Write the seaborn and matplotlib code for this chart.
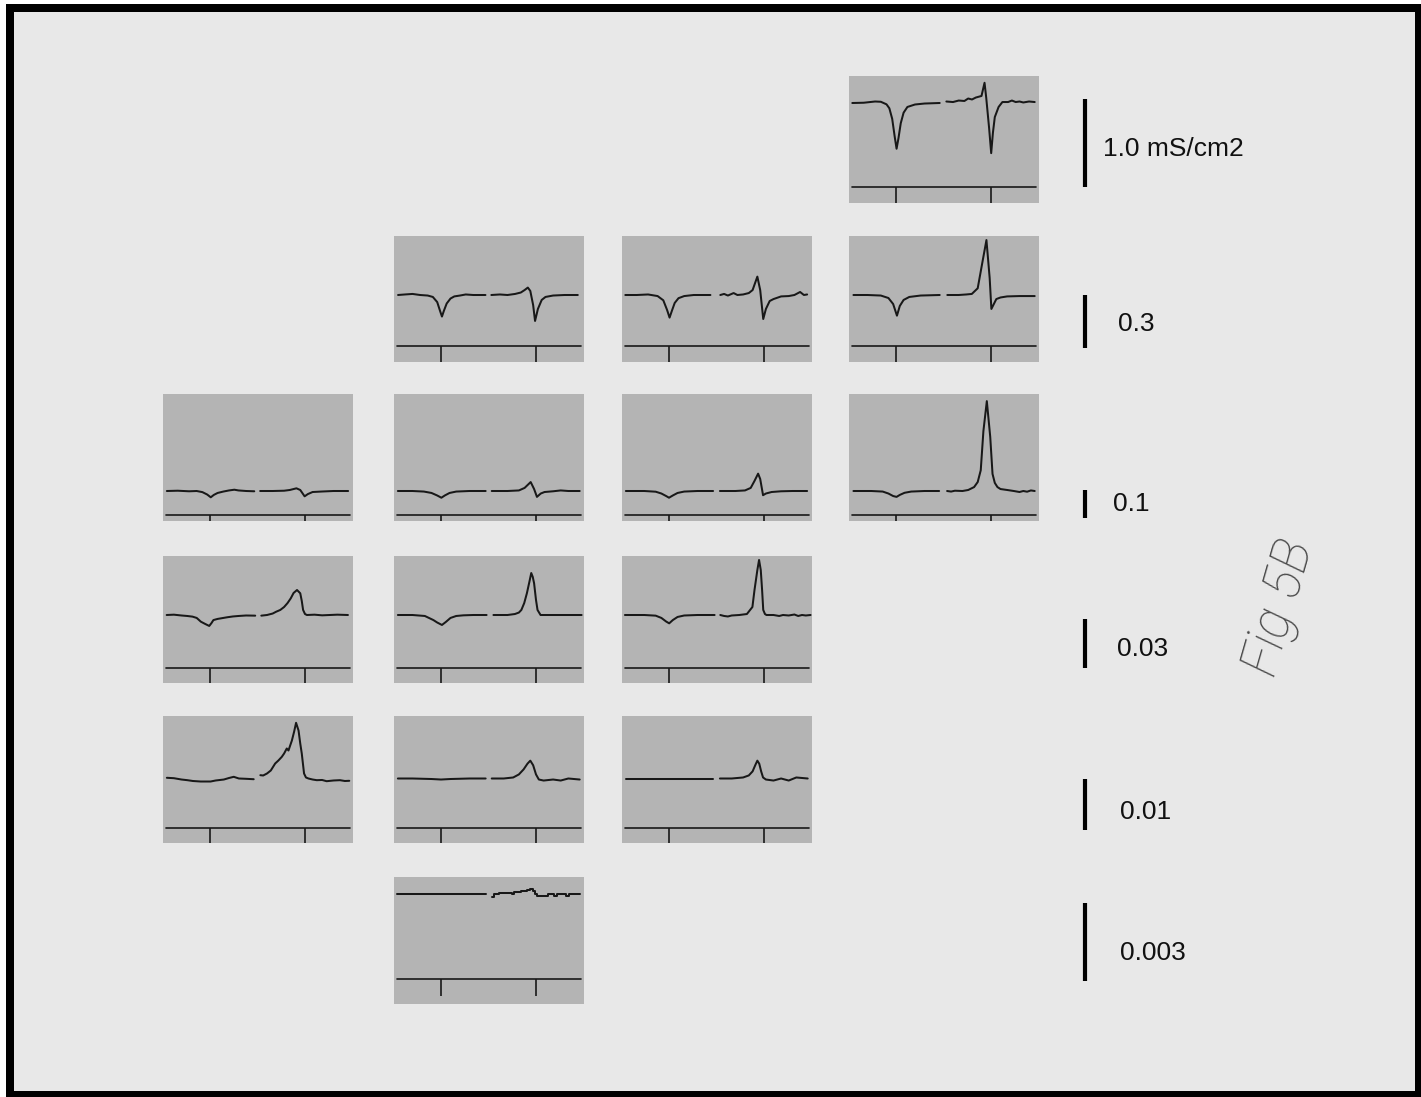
import matplotlib
matplotlib.use("Agg")
import matplotlib.pyplot as plt
import matplotlib.transforms as mtransforms
from matplotlib.patches import Rectangle
import pandas as pd
import seaborn as sns

# ---------------------------------------------------------------------------
# Conductance traces (µS/cm²) against time (% of sweep). Each panel holds two
# sweeps: the left one and the right one, each centred on a stimulus marker.
# ---------------------------------------------------------------------------
stim_times = [25, 75]

# row 0  (scale 1.0 mS/cm2)
r0c3_left = ([2, 8, 14, 17, 20, 21.5, 23, 24.3, 25.3, 26.3, 27.5, 29, 31, 35, 40, 48],
             [0, 3, 17, 14, -15, -60, -180, -380, -520, -400, -230, -110, -45, -17, -6, 0])
r0c3_right = ([51.5, 55, 58, 61, 63, 65, 67, 69, 70, 71.6, 72.5, 74, 75.1, 76, 77, 79, 81, 84, 86, 88, 90, 92, 95, 98],
              [17, 11, 28, 23, 51, 40, 62, 74, 80, 230, 57, -284, -570, -340, -160, -45, 11, 11, 28, 11, 17, 6, 17, 11])

# row 1  (scale 0.3)
r1c1_left = ([2.4, 6, 10, 14, 18, 20.7, 23, 24.5, 25.5, 26.5, 28, 30, 32, 35, 38, 42, 48.4],
             [0, 3, 6, 0, -3, -11, -40, -90, -122, -90, -48, -20, -8, -3, 3, 0, 0])
r1c1_right = ([51.5, 56, 60, 64, 67, 69, 70.7, 72, 73.5, 74.5, 76, 78, 80, 84, 90, 97],
              [0, 3, 0, 6, 14, 28, 42, 23, -57, -147, -79, -28, -11, -3, 0, 0])
r1c2_left = ([2, 8, 14, 19, 22, 24, 25.3, 26.5, 28, 30, 33, 38, 46.8],
             [0, 0, 3, -6, -30, -85, -128, -90, -45, -18, -6, 0, 0])
r1c2_right = ([52, 54, 56, 59, 61, 64, 67, 69, 71.5, 73, 74.6, 76, 78, 80, 84, 88, 91, 94, 96, 97.7],
              [0, 6, -3, 11, 0, 3, 11, 28, 104, 28, -136, -79, -34, -23, -8, -6, 0, 17, 0, 3])
r1c3_left = ([2.6, 10, 17, 21, 23.5, 25.5, 27, 29, 32, 38, 48],
             [0, 0, -3, -17, -51, -117, -62, -28, -11, -3, 0])
r1c3_right = ([52, 58, 62, 64.9, 68, 70.5, 72.6, 74.3, 75.2, 77.8, 80, 83.5, 90, 98],
              [0, 0, 3, 6, 38, 187, 311, 96, -79, -23, -14, -8, -6, -6])

# row 2  (scale 0.1)
r2c0_left = ([2.3, 8, 14, 18, 21, 23.5, 25.4, 27, 29, 32, 35, 37.8, 40, 44, 48.3],
             [0, 1, -1, 0, -4, -12.5, -22.5, -14, -7, -2, 2, 4.6, 2, 0, -1])
r2c0_right = ([51.4, 58, 64, 67, 70.5, 72.5, 74.8, 76.5, 79, 84, 90, 97.7],
              [0, 0, 1, 3.6, 9.6, 3.6, -19, -11, -3.6, -1.8, 0, 0])
r2c1_left = ([2.3, 10, 16, 20, 23, 25.2, 27, 29.5, 33, 40, 48.5],
             [0, 0, -2, -7, -16, -24, -16, -7, -2, 0, 0])
r2c1_right = ([51.7, 60, 66, 69, 72.2, 74, 75.5, 77.5, 79.5, 84, 88, 92, 98],
              [0, 0, 2, 11, 32, 7, -21, -9, -3.6, -1, 2, 0, 0])
r2c2_left = ([2.3, 12, 18, 21, 23.5, 25, 27, 29.5, 33, 40, 48.2],
             [0, 0, -2.5, -9, -18, -24, -16, -7, -2, 0, 0])
r2c2_right = ([51.8, 60, 65, 68, 70, 71.9, 73, 74.5, 76, 79, 84, 90, 97.7],
              [0, 0, 2, 11, 36, 62, 43, -15, -9, -3.6, -1, 0, 0])
r2c3_left = ([2.6, 12, 18, 21, 23.5, 25.3, 27, 29.5, 33, 40, 47.7],
             [0, 0, -2, -9, -18, -21, -14, -6.4, -2, 0, 0])
r2c3_right = ([51.9, 54, 56, 60, 63, 66.1, 68, 69.6, 71, 72.8, 74.6, 75.8, 77, 78.4, 80, 83.5, 87, 90, 92, 94, 96, 98],
              [0, -2, 1, 0, 3.6, 14, 32, 74, 214, 321, 193, 61, 29, 14, 7, 3.6, 0, -3.6, 0, -2.5, 2, 0])

# row 3  (scale 0.03)
r3c0_left = ([2.2, 6, 10, 13, 15.8, 18, 20.2, 22.5, 24.6, 25.8, 26.8, 29, 31, 34, 37, 40, 44, 48.8],
             [0, 0.2, -0.3, -0.6, -1.0, -1.8, -4.1, -5.5, -6.7, -4.9, -3.1, -2.4, -2.0, -1.4, -0.9, -0.6, -0.3, -0.4])
r3c0_right = ([52, 55, 58, 59.8, 62, 64, 65.8, 67.5, 69, 70.8, 72.5, 73.3, 74, 75, 76, 80, 84, 88, 92, 97.6],
              [-0.4, 0, 0.9, 2.0, 3.1, 4.9, 7.3, 10.2, 13.5, 15.3, 13.3, 8.6, 3.1, 0.6, 0, 0.2, -0.2, 0, 0.2, 0])
r3c1_left = ([2.3, 10, 16.5, 21, 23, 25.5, 27.5, 30, 33, 36.8, 42, 49],
             [0, 0, -0.6, -3.1, -4.6, -6.1, -4.3, -1.8, -0.6, -0.2, 0, 0])
r3c1_right = ([52.6, 60, 63.9, 66, 67.3, 68.8, 70.2, 71.5, 72.5, 73.3, 74, 75, 75.8, 77.4, 85, 99],
              [0, 0, 0.6, 1.5, 3.1, 7.3, 13.3, 20.2, 25.7, 23.3, 19.4, 9.2, 3.1, 0, 0, 0])
r3c2_left = ([1.8, 12, 18, 21, 23.5, 25.1, 27, 29.5, 33, 40, 49],
             [0, 0, -0.4, -1.8, -4.0, -5.1, -3.1, -1.2, -0.3, 0, 0])
r3c2_right = ([52, 54, 56, 58, 62, 66, 68.9, 70, 71.5, 72.4, 73.3, 74, 74.6, 75.5, 76.3, 80, 83, 85, 88, 91, 93, 95, 97, 99.5],
              [0, -0.6, -0.9, -0.3, 0, 0.6, 4.9, 15.3, 27.5, 33.7, 27.5, 15.3, 3.1, 0.6, 0, 0, -0.6, 0, -0.3, 0.3, -0.6, 0, -0.3, 0])

# row 4  (scale 0.01)
r4c0_left = ([2.3, 6, 10, 13.1, 16, 20.1, 25.3, 28, 32.3, 35, 37.5, 40.2, 44, 48],
             [0.14, 0.06, -0.2, -0.33, -0.49, -0.59, -0.59, -0.39, -0.2, 0.1, 0.33, 0, -0.06, -0.14])
r4c0_right = ([51.5, 53, 55, 57, 59.3, 61, 62.8, 64, 65.4, 66.3, 68.1, 69.3, 70.3, 71.6, 72.5, 73.3, 74.5, 75.5,
               76.8, 79, 81.2, 84, 86.4, 90, 93.4, 96, 98.3],
              [0.65, 0.59, 0.98, 1.57, 2.94, 3.53, 4.25, 4.9, 5.88, 5.49, 7.45, 9.22, 10.92, 9.41, 6.86, 4.9, 0.98, 0.2,
               0, -0.2, -0.33, -0.29, -0.53, -0.39, -0.33, -0.49, -0.45])
r4c1_left = ([2.3, 10, 20, 25, 30, 40, 48.5],
             [0, 0, -0.1, -0.2, -0.1, 0, 0])
r4c1_right = ([51.7, 58, 63, 66, 68.5, 70.5, 72, 73.5, 75, 76.5, 79, 84, 88, 92, 98],
              [0, 0, 0.2, 0.8, 1.8, 2.9, 3.5, 2.6, 0.8, -0.2, -0.4, -0.2, -0.4, 0, -0.2])
r4c2_left = ([2.3, 10, 20, 25, 30, 40, 48],
             [0, 0, 0, 0, 0, 0, 0])
r4c2_right = ([51.8, 58, 64, 67, 69, 70.5, 71.5, 72.5, 73.5, 74.5, 76, 80, 84, 88, 92, 98],
              [0, 0, 0.2, 0.6, 1.4, 2.7, 3.5, 2.9, 1.4, 0.2, -0.2, -0.4, 0, -0.4, 0.2, 0])

# row 5  (scale 0.003)
r5c1_left = ([1.8, 48.6],
             [0, 0])
r5c1_right = ([51.6, 52.7, 55.6, 59.1, 62.6, 63.5, 66.2, 67, 70.5, 71.9, 73.2, 74.4, 75.5, 78.4, 81.1, 84.6, 86.3,
               90.7, 92.5, 98.3],
              [-0.127, -0.027, 0.027, 0.027, 0, 0.05, 0.05, 0.104, 0.127, 0.154, 0.104, -0.027, -0.104, -0.104,
               -0.027, -0.089, -0.027, -0.104, -0.027, -0.027])

panel_traces = {
    (0, 3): (r0c3_left, r0c3_right),
    (1, 1): (r1c1_left, r1c1_right),
    (1, 2): (r1c2_left, r1c2_right),
    (1, 3): (r1c3_left, r1c3_right),
    (2, 0): (r2c0_left, r2c0_right),
    (2, 1): (r2c1_left, r2c1_right),
    (2, 2): (r2c2_left, r2c2_right),
    (2, 3): (r2c3_left, r2c3_right),
    (3, 0): (r3c0_left, r3c0_right),
    (3, 1): (r3c1_left, r3c1_right),
    (3, 2): (r3c2_left, r3c2_right),
    (4, 0): (r4c0_left, r4c0_right),
    (4, 1): (r4c1_left, r4c1_right),
    (4, 2): (r4c2_left, r4c2_right),
    (5, 1): (r5c1_left, r5c1_right),
}
stepped_panels = [(5, 1)]

# scale bar per row (µS/cm²) and its label
bar_values = [1000, 300, 100, 30, 10, 3]
bar_labels = ["1.0 mS/cm2", "0.3", "0.1", "0.03", "0.01", "0.003"]

# ---------------------------------------------------------------------------
# Layout (pixels on a 1421 x 1097 canvas)
# ---------------------------------------------------------------------------
W, H = 1421, 1097
col_left = [162.5, 393.5, 621.5, 848.5]
row_top = [76, 235.5, 394, 556, 716, 877]
panel_w, panel_h = 190, 126.5
base_px = [27, 59.5, 97, 59, 62.5, 16.5]        # trace zero level below panel top
axis_px = [111, 110.5, 121, 112, 111.7, 101.5]  # time axis below panel top
bar_px = [88, 53, 28, 49, 51, 78]               # drawn length of each scale bar
bar_drop_px = [0, 1.5, 3, 0, 2, 2]              # bar foot below the time axis
tick_px = 17
bar_x = 1085
label_x = [1103, 1118, 1113, 1117, 1120, 1120]
label_dy_px = [6, 3, 0, 6, 8, 11]

page_color = "#e8e8e8"
panel_color = "#b4b4b4"
ink = "#181818"

sns.set_style("white")
plt.rcParams["font.family"] = ["Liberation Sans", "DejaVu Sans"]

fig = plt.figure(figsize=(W / 100, H / 100), dpi=100, facecolor="white")


def fig_rect(x, y, w, h):
    return [x / W, 1 - (y + h) / H, w / W, h / H]


# scanned page with black frame
fig.add_artist(Rectangle((6 / W, 0), (W - 6) / W, (H - 4) / H, transform=fig.transFigure,
                         facecolor="black", edgecolor="none", zorder=-10))
fig.add_artist(Rectangle((14 / W, (H - 1091) / H), (1415 - 14) / W, (1091 - 12) / H,
                         transform=fig.transFigure, facecolor=page_color, edgecolor="none", zorder=-9))


def clean(ax):
    ax.set_xticks([])
    ax.set_yticks([])
    ax.set_xlabel("")
    ax.set_ylabel("")
    for s in ax.spines.values():
        s.set_visible(False)


def row_limits(r):
    k = bar_values[r] / bar_px[r]
    return k, (-(panel_h - base_px[r]) * k, base_px[r] * k)


for (r, c), sweeps in panel_traces.items():
    k, ylim = row_limits(r)
    ax = fig.add_axes(fig_rect(col_left[c], row_top[r], panel_w, panel_h))
    ax.set_facecolor(panel_color)
    for t, g in sweeps:
        df = pd.DataFrame({"t": t, "g": g})
        kw = {"drawstyle": "steps-post"} if ((r, c) in stepped_panels and len(t) > 2) else {}
        sns.lineplot(data=df, x="t", y="g", ax=ax, color=ink, lw=1.45,
                     estimator=None, sort=False, solid_joinstyle="round", **kw)
    axis_y = -(axis_px[r] - base_px[r]) * k
    ax.axhline(axis_y, xmin=0.02, xmax=0.985, color=ink, lw=1.2)
    ax.vlines(stim_times, axis_y - tick_px * k, axis_y, color=ink, lw=1.2)
    ax.set_xlim(0, 100)
    ax.set_ylim(*ylim)
    clean(ax)

# scale bars, one per row, sharing that row's conductance scale
for r in range(len(row_top)):
    k, ylim = row_limits(r)
    x0, w = 1060, 260
    ax = fig.add_axes(fig_rect(x0, row_top[r], w, panel_h))
    ax.set_facecolor("none")
    ax.set_xlim(0, 1)
    ax.set_ylim(*ylim)
    foot = -(axis_px[r] + bar_drop_px[r] - base_px[r]) * k
    trans = mtransforms.blended_transform_factory(ax.transAxes, ax.transData)
    bx = (bar_x - x0) / w
    ax.plot([bx, bx], [foot, foot + bar_values[r]], color="black", lw=3.0,
            solid_capstyle="butt", transform=trans)
    ax.text((label_x[r] - x0) / w, foot + bar_values[r] / 2 - label_dy_px[r] * k, bar_labels[r],
            transform=trans, ha="left", va="center", fontsize=19, color="#111111")
    clean(ax)

# handwritten figure tag
fig.text(1280 / W, 1 - 608 / H, "Fig 5B", rotation=74, ha="center", va="center",
         fontsize=38, color="#4a4a4a", family=["Roboto", "DejaVu Sans"], fontweight="light",
         style="italic")

fig.savefig("out.png", dpi=100, facecolor=fig.get_facecolor())
